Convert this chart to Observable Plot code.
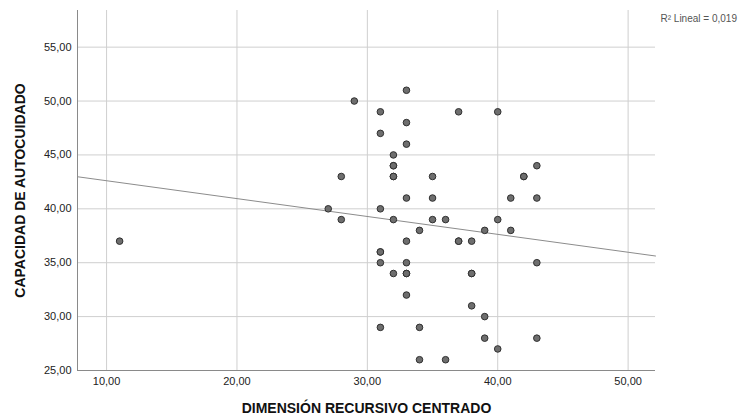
<!DOCTYPE html>
<html>
<head>
<meta charset="utf-8">
<script src="https://cdn.jsdelivr.net/npm/d3@7"></script>
<script src="https://cdn.jsdelivr.net/npm/@observablehq/plot@0.6"></script>
<style>
  html, body { margin: 0; padding: 0; background: #fff; }
  #chart { width: 745px; height: 415px; }
</style>
</head>
<body>
<div id="chart"></div>
<script>
// Data (x = Dimensión recursivo centrado, y = Capacidad de autocuidado)
const xValues = [33,29,31,37,40,33,31,33,32,32,32,43,28,32,32,35,42,42,33,35,41,43,27,31,28,32,35,36,40,34,39,41,33,37,37,38,11,31,31,31,33,43,32,33,33,38,38,33,38,39,31,34,39,43,40,34,36];
const yValues = [51,50,49,49,49,48,47,46,45,44,44,44,43,43,43,43,43,43,41,41,41,41,40,40,39,39,39,39,39,38,38,38,37,37,37,37,37,36,36,35,35,35,34,34,34,34,34,32,31,30,29,29,28,28,27,26,26];
const xTicks = [10, 20, 30, 40, 50];
const yTicks = [25, 30, 35, 40, 45, 50, 55];
const xDomain = [7.77, 52.1];
const yDomain = [25, 58.4];
const xLabel = "DIMENSIÓN RECURSIVO CENTRADO";
const yLabel = "CAPACIDAD DE AUTOCUIDADO";
const r2Label = "R² Lineal = 0,019";

const points = xValues.map((x, i) => ({x, y: yValues[i]}));

// least squares fit
const mx = d3.mean(xValues), my = d3.mean(yValues);
let sxy = 0, sxx = 0;
points.forEach(p => { sxy += (p.x - mx) * (p.y - my); sxx += (p.x - mx) ** 2; });
const slope = sxy / sxx, intercept = my - slope * mx;
const fitLine = xDomain.map(x => ({x, y: intercept + slope * x}));

const fmt = d => d.toFixed(2).replace(".", ",");

const chart = Plot.plot({
  width: 745,
  height: 415,
  marginLeft: 77,
  marginTop: 10,
  marginRight: 90,
  marginBottom: 45,
  style: {fontFamily: "'Liberation Sans', Arial, sans-serif", background: "#fff"},
  x: {domain: xDomain},
  y: {domain: yDomain},
  marks: [
    Plot.gridX(xTicks, {stroke: "#cfcfcf", strokeOpacity: 1, strokeWidth: 1}),
    Plot.gridY(yTicks, {stroke: "#cfcfcf", strokeOpacity: 1, strokeWidth: 1}),
    Plot.axisX(xTicks, {tickFormat: fmt, tickSize: 0, tickPadding: 7, fontSize: 11, fill: "#222", label: null}),
    Plot.axisY(yTicks, {tickFormat: fmt, tickSize: 0, tickPadding: 6, fontSize: 11, fill: "#222", label: null}),
    Plot.ruleX([xDomain[0]], {stroke: "#8a8a8a", strokeWidth: 1}),
    Plot.ruleY([yDomain[0]], {stroke: "#8a8a8a", strokeWidth: 1}),
    Plot.line(fitLine, {x: "x", y: "y", stroke: "#8c8c8c", strokeWidth: 1}),
    Plot.dot(points, {x: "x", y: "y", r: 3.3, fill: "#6e6e6e", stroke: "#303030", strokeWidth: 1}),
    Plot.text([xLabel], {frameAnchor: "bottom", dy: 38, textAnchor: "middle", fontSize: 14, fontWeight: "bold", fill: "#111", lineAnchor: "middle"}),
    Plot.text([yLabel], {frameAnchor: "left", dx: -57, rotate: -90, textAnchor: "middle", fontSize: 14, fontWeight: "bold", fill: "#111", lineAnchor: "middle"}),
    Plot.text([r2Label], {frameAnchor: "top-right", dx: 5, dy: 8, textAnchor: "start", lineAnchor: "middle", fontSize: 10, fill: "#555"})
  ]
});
document.getElementById("chart").appendChild(chart);
</script>
</body>
</html>
